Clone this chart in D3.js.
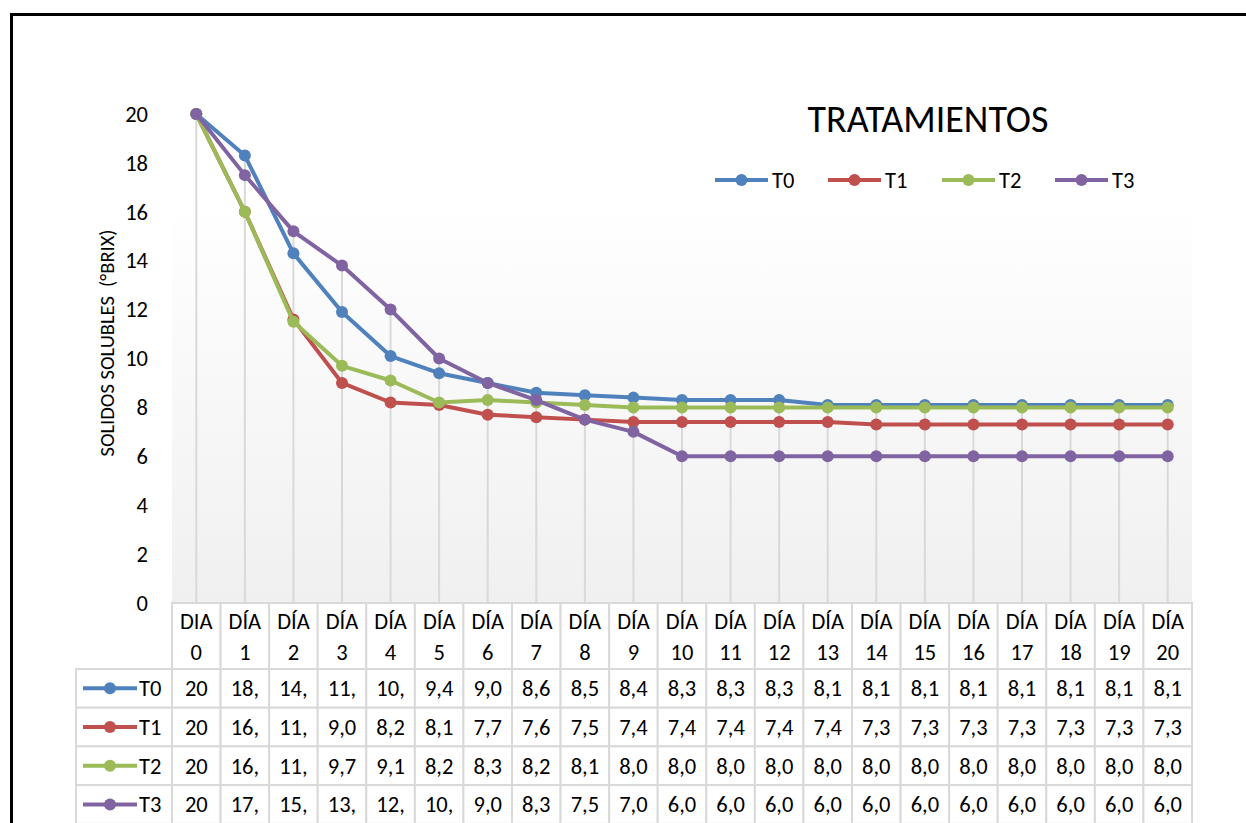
<!DOCTYPE html>
<html><head><meta charset="utf-8">
<script src="https://cdn.jsdelivr.net/npm/d3@7"></script>
<style>
html,body{margin:0;padding:0;background:#fff;}
svg{display:block;font-family:Carlito,Calibri,Lato,"Open Sans",sans-serif;}
</style></head>
<body><svg id="chart" width="1246" height="823"></svg>
<script>
const categories = ["DIA 0","DÍA 1","DÍA 2","DÍA 3","DÍA 4","DÍA 5","DÍA 6","DÍA 7","DÍA 8","DÍA 9","DÍA 10",
  "DÍA 11","DÍA 12","DÍA 13","DÍA 14","DÍA 15","DÍA 16","DÍA 17","DÍA 18","DÍA 19","DÍA 20"];
const seriesNames = ["T0","T1","T2","T3"];
const T0 = [20,18.3,14.3,11.9,10.1,9.4,9.0,8.6,8.5,8.4,8.3,8.3,8.3,8.1,8.1,8.1,8.1,8.1,8.1,8.1,8.1];
const T1 = [20,16.0,11.6,9.0,8.2,8.1,7.7,7.6,7.5,7.4,7.4,7.4,7.4,7.4,7.3,7.3,7.3,7.3,7.3,7.3,7.3];
const T2 = [20,16.0,11.5,9.7,9.1,8.2,8.3,8.2,8.1,8.0,8.0,8.0,8.0,8.0,8.0,8.0,8.0,8.0,8.0,8.0,8.0];
const T3 = [20,17.5,15.2,13.8,12.0,10.0,9.0,8.3,7.5,7.0,6.0,6.0,6.0,6.0,6.0,6.0,6.0,6.0,6.0,6.0,6.0];
const yTicks = [0,2,4,6,8,10,12,14,16,18,20];
const colors = ["#4f81bd","#c0504d","#9bbb59","#8064a2"];
const chartTitle = "TRATAMIENTOS";
const yTitle = "SOLIDOS SOLUBLES  (°BRIX)";

const series = [T0,T1,T2,T3];
const svg = d3.select("#chart");
const FS = 22.5;

// outer frame
svg.append("path").attr("d","M11.5,823 V14.5 H1246").attr("fill","none").attr("stroke","#000").attr("stroke-width",3);

const x = d3.scaleBand().domain(categories).range([172,1192]).padding(0);
const cx = d => x(d) + x.bandwidth()/2;
const y = d3.scaleLinear().domain([0,20]).range([603,114]);

// plot background gradient
const defs = svg.append("defs");
const grad = defs.append("linearGradient").attr("id","bg").attr("x1",0).attr("y1",0).attr("x2",0).attr("y2",1);
grad.append("stop").attr("offset","0%").attr("stop-color","#ffffff");
grad.append("stop").attr("offset","20%").attr("stop-color","#ffffff");
grad.append("stop").attr("offset","100%").attr("stop-color","#f0f0f0");
svg.append("rect").attr("x",172).attr("y",100).attr("width",1020).attr("height",503).attr("fill","url(#bg)");

// drop lines
svg.append("g").selectAll("line").data(categories).join("line")
  .attr("x1",d=>cx(d)).attr("x2",d=>cx(d))
  .attr("y1",(d,i)=>y(d3.max(series,s=>s[i]))).attr("y2",y(0))
  .attr("stroke","#d9d9d9").attr("stroke-width",2);

// y axis
const yAxis = svg.append("g").attr("transform","translate(172,0)")
  .call(d3.axisLeft(y).tickValues(yTicks).tickSize(0).tickPadding(24));
yAxis.select(".domain").remove();
yAxis.selectAll("text").attr("font-size",FS).attr("fill","#000").attr("font-family","Carlito,Calibri,Lato,sans-serif");

svg.append("text").attr("transform","translate(107,343) rotate(-90)")
  .attr("text-anchor","middle").attr("dy","0.35em").attr("font-size",20.5).attr("fill","#000")
  .style("white-space","pre").attr("xml:space","preserve").text(yTitle);

// series
const line = d3.line().x((d,i)=>cx(categories[i])).y(d=>y(d));
series.forEach((s,k)=>{
  const g = svg.append("g");
  g.append("path").datum(s).attr("d",line).attr("fill","none").attr("stroke",colors[k]).attr("stroke-width",4).attr("stroke-linejoin","round");
  g.selectAll("circle").data(s).join("circle").attr("cx",(d,i)=>cx(categories[i])).attr("cy",d=>y(d)).attr("r",6).attr("fill",colors[k]);
});

// title & legend
svg.append("text").attr("x",928).attr("y",132).attr("text-anchor","middle").attr("font-size",38).attr("fill","#000").text(chartTitle);
const legendX = [715,828,942,1055];
const lg = svg.append("g").selectAll("g").data(seriesNames).join("g").attr("transform",(d,i)=>`translate(${legendX[i]},180)`);
lg.append("line").attr("x1",0).attr("x2",53).attr("stroke",(d,i)=>colors[i]).attr("stroke-width",4);
lg.append("circle").attr("cx",26.5).attr("r",6).attr("fill",(d,i)=>colors[i]);
lg.append("text").attr("x",57).attr("y",8).attr("font-size",FS).attr("fill","#000").text(d=>d);

// data table
const fmt = v => v === 20 ? "20" : v.toFixed(1).replace(".",",").slice(0,3);
const headTop = 603, headBot = 669, rowH = 38.7;
const tbl = svg.append("g");
const bc = "#d9d9d9";
categories.forEach(c=>{
  tbl.append("rect").attr("x",x(c)).attr("y",headTop).attr("width",x.bandwidth()).attr("height",headBot-headTop)
    .attr("fill","#fff").attr("stroke",bc).attr("stroke-width",2);
  const parts = c.split(" ");
  tbl.append("text").attr("x",cx(c)).attr("y",629).attr("text-anchor","middle").attr("font-size",FS).attr("fill","#000").text(parts[0]);
  tbl.append("text").attr("x",cx(c)).attr("y",660).attr("text-anchor","middle").attr("font-size",FS).attr("fill","#000").text(parts[1]);
});
series.forEach((s,k)=>{
  const top = headBot + k*rowH;
  tbl.append("rect").attr("x",76).attr("y",top).attr("width",96).attr("height",rowH).attr("fill","#fff").attr("stroke",bc).attr("stroke-width",2);
  tbl.append("line").attr("x1",83).attr("x2",137).attr("y1",top+rowH/2).attr("y2",top+rowH/2).attr("stroke",colors[k]).attr("stroke-width",4);
  tbl.append("circle").attr("cx",110).attr("cy",top+rowH/2).attr("r",6).attr("fill",colors[k]);
  tbl.append("text").attr("x",139).attr("y",top+rowH/2+8).attr("font-size",FS).attr("fill","#000").text(seriesNames[k]);
  s.forEach((v,i)=>{
    const c = categories[i];
    tbl.append("rect").attr("x",x(c)).attr("y",top).attr("width",x.bandwidth()).attr("height",rowH).attr("fill","#fff").attr("stroke",bc).attr("stroke-width",2);
    tbl.append("text").attr("x",cx(c)).attr("y",top+rowH/2+8).attr("text-anchor","middle").attr("font-size",FS).attr("fill","#000").text(fmt(v));
  });
});
</script></body></html>
